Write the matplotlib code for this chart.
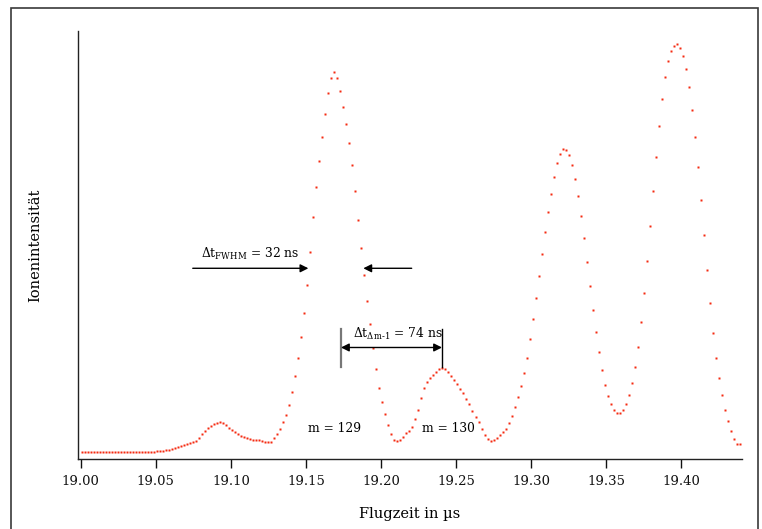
import numpy as np
import matplotlib
matplotlib.use("Agg")
import matplotlib.pyplot as plt
from matplotlib.patches import Rectangle

plt.rcParams['font.family'] = ['DejaVu Serif']
plt.rcParams['mathtext.fontset'] = 'dejavuserif'

# ---- data ----
t_start = 19.0009      # first sample (µs)
t_step = 0.002         # sampling interval (µs)
intensity = [
    7.0, 7.1, 7.2, 7.3, 7.5, 7.6, 7.5, 7.4, 7.2, 7.4, 7.7, 7.6, 7.4, 7.1, 7.0, 7.1,
    7.3, 7.5, 7.6, 7.6, 7.7, 7.7, 7.8, 7.9, 7.9, 8.0, 8.2,
    8.5, 9.0, 9.5, 10.2, 11.0, 12.0, 13.2, 14.5, 15.7, 16.7, 17.5,
    18.8, 21.5, 25.2, 28.5, 31.2, 33.5, 35.5, 36.8, 37.2, 36.2, 34.2, 31.8, 29.5,
    27.5, 25.5, 23.8, 22.8, 21.5, 20.5, 19.8, 19.8, 19.8, 18.8, 17.5, 17.2, 17.8,
    21.2, 25.5, 30.8, 37.2, 44.8, 54.8, 67.5, 83.5, 101.8, 122.2, 146.2, 174.8,
    207.8, 242.2, 272.8, 298.8, 322.2, 345.2, 366.2, 381.5, 387.2, 381.5, 368.5,
    352.2, 335.2, 316.2, 294.2, 268.2, 239.8, 211.2,
    184.2, 158.8, 135.5, 111.5, 90.5, 71.8, 57.5, 45.5, 34.5, 25.5, 19.8, 18.2,
    19.8, 22.8, 26.2, 28.8, 32.5, 40.8, 49.5, 61.5, 71.8, 77.5, 81.2, 84.5, 87.5,
    90.5, 91.2, 90.5, 87.5, 83.8, 79.5, 75.5, 70.8, 66.5, 60.8, 55.2, 48.8, 42.8,
    37.2, 30.5, 24.8, 20.2, 18.8, 19.8, 21.8, 24.5, 27.2, 30.8, 36.5, 43.8, 52.8,
    62.5, 73.2, 86.2, 101.8, 120.5,
    140.5, 161.5, 183.5, 205.5, 227.5, 247.5, 265.5, 282.5, 296.5, 305.5, 310.5,
    309.5, 304.5, 294.5, 280.5, 263.5, 243.5, 221.5, 197.5, 173.5, 149.5, 127.5,
    107.5, 89.5, 74.5, 63.5, 55.5, 49.8, 46.8, 46.8, 49.8, 55.5,
    64.5, 76.5, 92.5, 112.5, 137.5, 166.5, 198.5, 233.5, 268.5, 302.5, 333.5,
    360.5, 382.5, 398.5, 408.5, 413.5, 415.0, 411.5, 403.5, 390.5, 372.5, 349.5,
    322.5, 292.5, 259.5, 224.5, 189.5, 156.5, 126.5, 101.5, 81.5, 64.5, 49.8,
    38.8, 28.5, 20.5, 15.8, 15.8,
]
time = t_start + t_step * np.arange(len(intensity))

x_ticks = [19.00, 19.05, 19.10, 19.15, 19.20, 19.25, 19.30, 19.35, 19.40]
x_tick_labels = ["19.00", "19.05", "19.10", "19.15", "19.20", "19.25", "19.30", "19.35", "19.40"]

xlabel = "Flugzeit in µs"
ylabel = "Ionenintensität"
label_fwhm = r"$\Delta\mathrm{t}_{\mathrm{FWHM}}$ = 32 ns"
label_dm = r"$\Delta\mathrm{t}_{\Delta\mathrm{m\text{-}1}}$ = 74 ns"
label_m129 = "m = 129"
label_m130 = "m = 130"

# ---- figure ----
fig = plt.figure(figsize=(7.62, 5.29), dpi=100)
ax = fig.add_axes([0.1028, 0.1314, 0.8706, 0.8106])

ax.plot(time, intensity, linestyle='none', marker='s', markersize=1.7,
        markerfacecolor='#f52a10', markeredgecolor='none')

ax.set_xlim(18.9984, 19.4402)
ax.set_ylim(0, 428.8)

for s in ['top', 'right']:
    ax.spines[s].set_visible(False)
for s in ['left', 'bottom']:
    ax.spines[s].set_color('#222222')
    ax.spines[s].set_linewidth(1.0)

ax.set_yticks([])
ax.set_xticks(x_ticks)
ax.set_xticklabels(x_tick_labels)
ax.tick_params(axis='x', direction='out', length=6.5, width=1.0, pad=4.5,
               labelsize=9.5, colors='#111111')

ax.set_xlabel(xlabel, fontsize=10.5, labelpad=13.5)
ax.set_ylabel(ylabel, fontsize=10.5, labelpad=26)

# annotations
fs = 8.8
ax.text(19.0799, 201.5, label_fwhm, fontsize=fs, ha='left', va='baseline')
ax.annotate('', xy=(19.1516, 191.2), xytext=(19.0746, 191.2),
            arrowprops=dict(arrowstyle='-|>', color='black', lw=1.0,
                            mutation_scale=12, shrinkA=0, shrinkB=0))
ax.annotate('', xy=(19.1882, 191.2), xytext=(19.2204, 191.2),
            arrowprops=dict(arrowstyle='-|>', color='black', lw=1.0,
                            mutation_scale=12, shrinkA=0, shrinkB=0))

ax.plot([19.1731, 19.1731], [92.2, 130.5], color='#777777', lw=1.6)
ax.plot([19.2408, 19.2408], [92.2, 130.5], color='black', lw=1.0)
ax.annotate('', xy=(19.2406, 112.0), xytext=(19.1733, 112.0),
            arrowprops=dict(arrowstyle='<|-|>', color='black', lw=1.0,
                            mutation_scale=12, shrinkA=0, shrinkB=0))
ax.text(19.1812, 121.2, label_dm, fontsize=fs, ha='left', va='baseline')

ax.text(19.1512, 27.8, label_m129, fontsize=fs, ha='left', va='baseline')
ax.text(19.2275, 27.8, label_m130, fontsize=fs, ha='left', va='baseline')

# outer frame
fig.patches.append(Rectangle((11 / 762, -0.1), (758 - 11) / 762, 1.1 + (529 - 8) / 529 - 1.0,
                             transform=fig.transFigure, fill=False,
                             edgecolor='#3a3a3a', linewidth=1.2))

fig.savefig('out.png', dpi=100)
